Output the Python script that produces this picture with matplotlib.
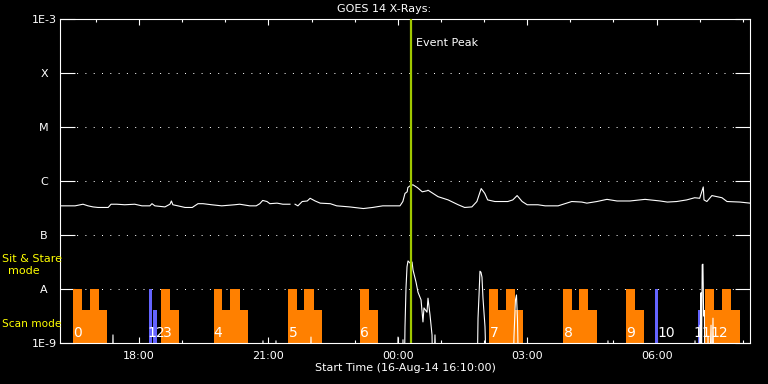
import numpy as np
import matplotlib
matplotlib.use('Agg')
import matplotlib.pyplot as plt
import matplotlib.dates as mdates
import matplotlib.transforms as mtransforms

# ---------------- data ----------------
START = np.datetime64('2014-08-16T16:10')
END = np.datetime64('2014-08-17T08:10')

# GOES long channel: minutes after start, log10 flux (W/m^2)
long_min = [0, 21, 32, 39, 46, 53, 67, 71, 79, 90, 104, 114, 125, 128, 132, 146, 153, 155, 157,
            164, 174, 184, 192, 199, 211, 225, 243, 250, 264, 273, 278, 282, 288, 292, 302, 310,
            320, 323, 327, 331, 337, 344, 348, 355, 362, 376, 385, 403, 422, 435, 449, 463, 473,
            477, 480, 483, 484, 487, 491, 497, 504, 511, 512, 519, 526, 540, 554, 563, 573, 580,
            586, 591, 595, 605, 623, 630, 636, 643, 650, 665, 675, 693, 712, 726, 733, 747, 761,
            775, 793, 814, 835, 845, 858, 872, 883, 890, 895, 896, 900, 907, 914, 921, 928, 946,
            960]
long_log = [-6.46, -6.46, -6.43, -6.46, -6.48, -6.49, -6.49, -6.43, -6.43, -6.44, -6.43, -6.46,
            -6.46, -6.42, -6.46, -6.48, -6.43, -6.37, -6.44, -6.46, -6.49, -6.49, -6.42, -6.42,
            -6.44, -6.46, -6.44, -6.43, -6.46, -6.46, -6.42, -6.36, -6.38, -6.42, -6.41, -6.43,
            -6.43, np.nan, -6.43, -6.46, -6.38, -6.37, -6.32, -6.37, -6.41, -6.42, -6.46, -6.48,
            -6.51, -6.49, -6.46, -6.46, -6.46, -6.38, -6.23, -6.20, -6.12, -6.09, -6.07, -6.12,
            -6.20, -6.18, -6.17, -6.23, -6.29, -6.35, -6.44, -6.49, -6.48, -6.38, -6.14, -6.23,
            -6.35, -6.38, -6.38, -6.35, -6.27, -6.38, -6.44, -6.44, -6.46, -6.46, -6.38, -6.39,
            -6.41, -6.38, -6.34, -6.37, -6.37, -6.34, -6.37, -6.39, -6.38, -6.35, -6.31, -6.32,
            -6.11, -6.35, -6.38, -6.27, -6.29, -6.31, -6.38, -6.39, -6.41]

# lower spiky series: minutes after start, log10 value (-10 = below the axis)
short_min = [0, 72, 73.7, 75.4,
             280.7, 282.4, 284.1,
             298.8, 300.5, 302.2,
             347.5, 349.2, 350.9,
             468.6, 470.3, 472.0,
             475.8, 477.2, 478.6, 480.0, 481.4, 482.8, 484.2, 487.0, 489.8, 491.2, 495.3, 498.1,
             502.3, 505.0, 506.4, 510.6, 512.0, 514.8, 517.6, 519.0, 521.7, 524.5,
             580.0, 581.6, 583.0, 584.3, 585.7, 587.1, 588.5, 591.3, 594.1,
             630.0, 631.6, 633.7, 635.1, 636.5, 638.6,
             760.7, 762.4, 764.1,
             881.8, 883.5, 885.2,
             889.0, 890.4, 891.0, 891.8, 892.5, 893.5, 894.5, 895.5, 896.5, 897.4,
             900.2, 901.6, 903.0, 905.8, 907.0, 908.5, 909.9,
             960]
short_log = [-10, -10, -8.85, -10,
             -10, -8.96, -10,
             -10, -8.96, -10,
             -10, -8.89, -10,
             -10, -8.89, -10,
             -10, -8.94, -10, -8.70, -7.98, -7.59, -7.48, -7.52, -7.50, -7.65, -7.87, -8.06,
             -8.20, -8.61, -8.35, -8.43, -8.17, -8.48, -8.85, -10, -8.85, -10,
             -10, -8.54, -8.11, -7.67, -7.69, -7.78, -8.17, -8.70, -10,
             -10, -8.89, -8.20, -8.11, -8.57, -10,
             -10, -8.96, -10,
             -10, -8.96, -10,
             -10, -8.67, -10, -8.07, -9.5, -7.55, -7.54, -8.5, -8.4, -10,
             -10, -8.89, -10, -8.67, -10, -8.54, -10,
             -10]

# observation blocks
obs_start = ['16:28', '16:41', '16:52', '17:04', '18:14', '18:20', '18:30', '18:43',
             '19:44', '19:56', '20:07', '20:20', '21:27', '21:40', '21:50', '22:03',
             '23:07', '23:20', '02:07', '02:20', '02:30', '02:43', '03:50', '04:02',
             '04:12', '04:25', '05:17', '05:30', '05:58', '06:58', '07:07', '07:20',
             '07:31', '07:44']
obs_end = ['16:41', '16:52', '17:04', '17:16', '18:18', '18:25', '18:43', '18:56',
           '19:56', '20:07', '20:20', '20:31', '21:40', '21:50', '22:03', '22:14',
           '23:20', '23:32', '02:20', '02:30', '02:43', '02:54', '04:02', '04:12',
           '04:25', '04:37', '05:30', '05:42', '06:02', '07:01', '07:20', '07:31',
           '07:44', '07:56']
obs_top = [1e-8, 4.1e-9, 1e-8, 4.1e-9, 1e-8, 4.1e-9, 1e-8, 4.1e-9,
           1e-8, 4.1e-9, 1e-8, 4.1e-9, 1e-8, 4.1e-9, 1e-8, 4.1e-9,
           1e-8, 4.1e-9, 1e-8, 4.1e-9, 1e-8, 4.1e-9, 1e-8, 4.1e-9,
           1e-8, 4.1e-9, 1e-8, 4.1e-9, 1e-8, 4.1e-9, 1e-8, 4.1e-9,
           1e-8, 4.1e-9]
obs_kind = ['o', 'o', 'o', 'o', 'b', 'b', 'o', 'o',
            'o', 'o', 'o', 'o', 'o', 'o', 'o', 'o',
            'o', 'o', 'o', 'o', 'o', 'o', 'o', 'o',
            'o', 'o', 'o', 'o', 'b', 'b', 'o', 'o',
            'o', 'o']

obs_labels = ['0', '1', '2', '3', '4', '5', '6', '7', '8', '9', '10', '11', '12']
obs_label_time = ['16:34', '18:18', '18:29', '18:40', '19:50', '21:34', '23:14',
                  '02:14', '03:57', '05:24', '06:13', '07:04', '07:27']

event_time = '00:19'

ytick_vals = [1e-9, 1e-8, 1e-7, 1e-6, 1e-5, 1e-4, 1e-3]
ytick_labels = ['1E-9', 'A', 'B', 'C', 'M', 'X', '1E-3']
grid_vals = [1e-8, 1e-7, 1e-6, 1e-5, 1e-4]


def hm(s):
    h, m = map(int, s.split(':'))
    day = '2014-08-16' if h >= 16 else '2014-08-17'
    return np.datetime64(f'{day}T{h:02d}:{m:02d}')


def from_min(arr):
    return START + (np.array(arr) * 60).astype('timedelta64[s]')


# ---------------- figure ----------------
plt.rcParams['font.family'] = ['DejaVu Sans']
fig = plt.figure(figsize=(7.68, 3.84), dpi=100, facecolor='black')
ax = fig.add_axes([60 / 768, 41 / 384, 690 / 768, 324 / 384], facecolor='black')

ax.set_yscale('log')
ax.set_ylim(1e-9, 1e-3)
ax.set_xlim(START, END)

# grid dotted lines
for g in grid_vals:
    ax.axhline(g, color='white', lw=0.72, linestyle=(0, (1, 7.3)), zorder=1)

# observation bars
colors = {'o': '#ff8000', 'b': '#6464ff'}
for s, e, top, k in zip(obs_start, obs_end, obs_top, obs_kind):
    x0 = mdates.date2num(hm(s))
    x1 = mdates.date2num(hm(e))
    ax.bar(x0, top - 1e-9, width=x1 - x0, bottom=1e-9, align='edge',
           color=colors[k], linewidth=0, zorder=2)

# labels of observations
trans = mtransforms.blended_transform_factory(ax.transData, ax.transAxes)
for lab, t in zip(obs_labels, obs_label_time):
    ax.text(mdates.date2num(hm(t)), 0.031, lab, transform=trans, color='white',
            fontsize=10, ha='center', va='center', zorder=5)

# curves
ax.plot(from_min(long_min), 10.0 ** np.array(long_log), color='white', lw=0.8, zorder=4)
ax.plot(from_min(short_min), 10.0 ** np.array(short_log), color='white', lw=0.8, zorder=4)

# event peak
ax.axvline(hm(event_time), color='#a0c800', lw=1.6, zorder=6)
ax.text(hm('00:26'), 10 ** -3.44, 'Event Peak', color='white', fontsize=8,
        ha='left', va='center', zorder=6)

# axes styling
for sp in ax.spines.values():
    sp.set_color('white')
    sp.set_linewidth(0.8)

ax.set_yticks(ytick_vals)
ax.set_yticklabels(ytick_labels)
ax.yaxis.set_minor_locator(matplotlib.ticker.NullLocator())
ax.tick_params(axis='y', which='major', direction='in', length=10.8, width=0.8,
               colors='white', labelsize=8, left=True, right=True, pad=11.5)
for lbl in ax.get_yticklabels():
    lbl.set_horizontalalignment('center')

ax.xaxis.set_major_locator(mdates.HourLocator(byhour=[0, 3, 6, 9, 12, 15, 18, 21]))
ax.xaxis.set_minor_locator(mdates.HourLocator())
ax.xaxis.set_major_formatter(mdates.DateFormatter('%H:%M'))
ax.tick_params(axis='x', which='major', direction='in', length=4.5, width=0.8,
               colors='white', labelsize=8, top=True, bottom=True, pad=6)
ax.tick_params(axis='x', which='minor', direction='in', length=2.3, width=0.8,
               colors='white', top=True, bottom=True)

# texts
fig.text(0.5, 1 - 9 / 384, 'GOES 14 X-Rays:', color='white', fontsize=8,
         ha='center', va='center')
fig.text(405 / 768, 1 - 368 / 384, 'Start Time (16-Aug-14 16:10:00)', color='white',
         fontsize=8, ha='center', va='center')
fig.text(2 / 768, 1 - 259 / 384, 'Sit & Stare', color='#ffff00', fontsize=8,
         ha='left', va='center')
fig.text(24 / 768, 1 - 271 / 384, 'mode', color='#ffff00', fontsize=8,
         ha='center', va='center')
fig.text(2 / 768, 1 - 324 / 384, 'Scan mode', color='#ffff00', fontsize=7.6,
         ha='left', va='center')

fig.savefig('out.png', dpi=100, facecolor='black')
